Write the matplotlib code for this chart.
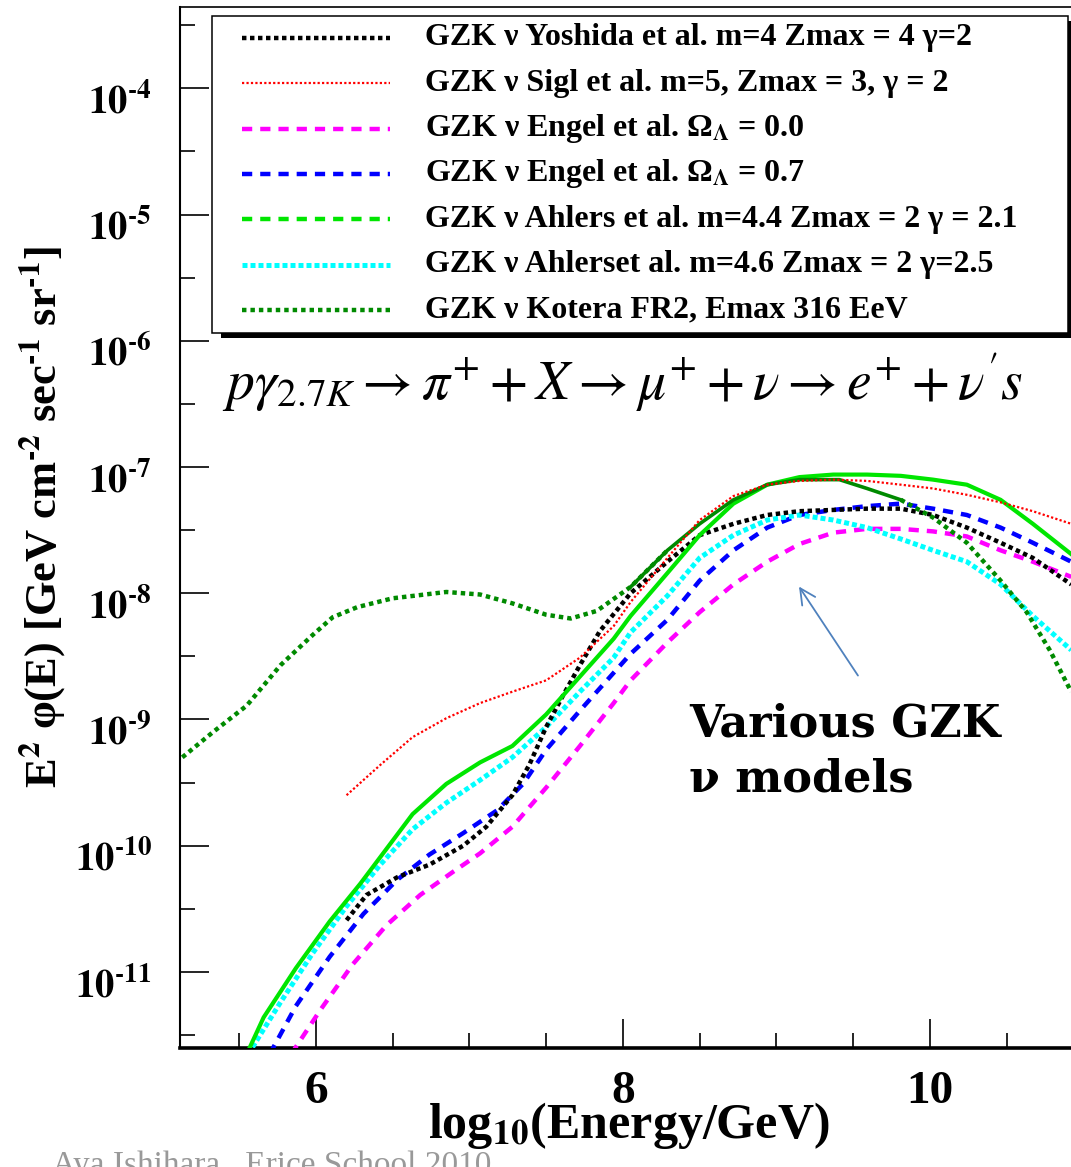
import numpy as np
import matplotlib
matplotlib.use('Agg')
import matplotlib.pyplot as plt
from matplotlib.ticker import FixedLocator, FuncFormatter, NullFormatter
from matplotlib.patches import Rectangle
from matplotlib.lines import Line2D
from matplotlib import transforms

plt.rcParams['mathtext.fontset'] = 'stix'
plt.rcParams['font.family'] = ['Liberation Serif', 'DejaVu Serif']

# log10(E/GeV) and log10(E^2 phi)
yoshida_x = [6.20, 6.33, 6.53, 6.74, 6.96, 7.11, 7.28, 7.39, 7.50, 7.61, 7.72, 7.85, 8.05,
             8.29, 8.50, 8.72, 8.94, 9.15, 9.37, 9.59, 9.81, 10.02, 10.24, 10.46, 10.67, 10.92]
yoshida_y = [-10.59, -10.39, -10.25, -10.15, -10.00, -9.85, -9.60, -9.36, -9.06, -8.81, -8.57, -8.30, -8.00,
             -7.75, -7.54, -7.45, -7.38, -7.35, -7.34, -7.33, -7.33, -7.38, -7.48, -7.60, -7.72, -7.93]

sigl_x = [6.20, 6.42, 6.63, 6.85, 7.07, 7.28, 7.50, 7.72, 7.94, 8.05, 8.29, 8.50,
          8.72, 8.94, 9.15, 9.37, 9.59, 9.81, 10.02, 10.24, 10.46, 10.67, 10.92]
sigl_y = [-9.60, -9.36, -9.14, -8.99, -8.87, -8.78, -8.69, -8.51, -8.26, -8.07, -7.72, -7.42,
          -7.23, -7.14, -7.11, -7.10, -7.11, -7.14, -7.17, -7.22, -7.28, -7.35, -7.45]

engel0_x = [5.84, 6.03, 6.24, 6.46, 6.68, 6.89, 7.07, 7.28, 7.50, 7.72, 7.94, 8.05, 8.29,
            8.50, 8.72, 8.94, 9.15, 9.37, 9.59, 9.81, 10.02, 10.24, 10.46, 10.67, 10.92]
engel0_y = [-11.65, -11.30, -10.94, -10.63, -10.39, -10.21, -10.06, -9.85, -9.54, -9.21, -8.87, -8.69, -8.39,
            -8.15, -7.93, -7.75, -7.61, -7.52, -7.49, -7.49, -7.51, -7.55, -7.66, -7.75, -7.87]

engel7_x = [5.70, 5.87, 6.09, 6.31, 6.53, 6.74, 6.96, 7.18, 7.35, 7.50, 7.72, 7.94, 8.05,
            8.29, 8.50, 8.72, 8.94, 9.15, 9.37, 9.59, 9.81, 10.02, 10.24, 10.46, 10.67, 10.92]
engel7_y = [-11.65, -11.27, -10.88, -10.54, -10.27, -10.07, -9.90, -9.72, -9.51, -9.24, -8.93, -8.63, -8.48,
            -8.21, -7.90, -7.66, -7.48, -7.38, -7.34, -7.31, -7.29, -7.33, -7.38, -7.48, -7.60, -7.75]

ahlers44_x = [5.55, 5.66, 5.87, 6.09, 6.29, 6.42, 6.63, 6.85, 7.07, 7.28, 7.50, 7.72, 7.94, 8.05,
              8.29, 8.50, 8.72, 8.94, 9.15, 9.37, 9.59, 9.81, 10.02, 10.24, 10.46, 10.67, 10.92]
ahlers44_y = [-11.65, -11.36, -10.97, -10.60, -10.30, -10.09, -9.75, -9.51, -9.34, -9.21, -8.96, -8.66, -8.36, -8.18,
              -7.84, -7.54, -7.29, -7.14, -7.08, -7.06, -7.06, -7.07, -7.10, -7.14, -7.26, -7.45, -7.69]

ahlers46_x = [5.56, 5.77, 5.98, 6.20, 6.42, 6.63, 6.85, 7.07, 7.28, 7.50, 7.72, 7.94, 8.05,
              8.29, 8.50, 8.72, 8.94, 9.15, 9.37, 9.59, 9.81, 10.02, 10.24, 10.46, 10.67, 10.92]
ahlers46_y = [-11.65, -11.24, -10.85, -10.48, -10.15, -9.87, -9.66, -9.48, -9.30, -9.06, -8.78, -8.51, -8.31,
              -8.02, -7.72, -7.54, -7.42, -7.38, -7.42, -7.48, -7.57, -7.66, -7.75, -7.93, -8.18, -8.45]

kotera_x = [5.13, 5.33, 5.55, 5.77, 5.98, 6.11, 6.27, 6.50, 6.85, 7.07, 7.28, 7.50, 7.66, 7.83, 8.05,
            8.29, 8.50, 8.72, 8.94, 9.15, 9.41, 9.59, 9.81, 10.02, 10.24, 10.46, 10.63, 10.78, 10.92]
kotera_y = [-9.30, -9.10, -8.89, -8.57, -8.33, -8.19, -8.11, -8.04, -7.99, -8.01, -8.08, -8.17, -8.20, -8.14, -7.95,
            -7.66, -7.45, -7.26, -7.14, -7.10, -7.10, -7.17, -7.26, -7.40, -7.60, -7.90, -8.15, -8.45, -8.78]

labels = [
    'GZK ν Yoshida et al. m=4 Zmax = 4 γ=2',
    'GZK ν Sigl et al. m=5, Zmax = 3, γ = 2',
    r'GZK ν Engel et al. Ω$_{\mathbf{\Lambda}}$ = 0.0',
    r'GZK ν Engel et al. Ω$_{\mathbf{\Lambda}}$ = 0.7',
    'GZK ν Ahlers et al. m=4.4 Zmax = 2 γ = 2.1',
    'GZK ν Ahlerset al. m=4.6 Zmax = 2 γ=2.5',
    'GZK ν Kotera FR2, Emax 316 EeV',
]

dot = (0, (1, 0.8))
dash = (0, (2.3, 1.8))
styles = [
    dict(color='black', lw=3.2, ls=dot),
    dict(color='#ff0000', lw=1.6, ls=(0, (1, 1))),
    dict(color='#ff00ff', lw=3.2, ls=dash),
    dict(color='#0000ff', lw=3.2, ls=dash),
    dict(color='#00e600', lw=3.2, ls=dash),
    dict(color='#00ffff', lw=3.6, ls=(0, (1, 0.6))),
    dict(color='#008a00', lw=3.2, ls=(0, (1, 0.9))),
]

HY = '\u2010'  # short hyphen for exponents, as in the ROOT output

fig = plt.figure(figsize=(10.71, 11.67), dpi=100)
ax = fig.add_axes([179.5 / 1071, 1 - 1047.7 / 1167, 904 / 1071, 1040.7 / 1167])
ax.set_yscale('log')

ax.plot(yoshida_x, 10.0 ** np.array(yoshida_y), **styles[0], zorder=4)
ax.plot(sigl_x, 10.0 ** np.array(sigl_y), **styles[1], zorder=5)
ax.plot(engel0_x, 10.0 ** np.array(engel0_y), **styles[2], zorder=3)
ax.plot(engel7_x, 10.0 ** np.array(engel7_y), **styles[3], zorder=3)
ax.plot(ahlers44_x, 10.0 ** np.array(ahlers44_y), color=styles[4]['color'], lw=3.0, ls='-', zorder=4)
ax.plot(ahlers46_x, 10.0 ** np.array(ahlers46_y), **styles[5], zorder=3)
kx = np.array(kotera_x)
ky = 10.0 ** np.array(kotera_y)
inner = (kx >= 8.05) & (kx <= 9.81)
ax.plot(np.where(kx <= 8.29, kx, np.nan), ky, **styles[6], zorder=4)
ax.plot(np.where(kx >= 9.81, kx, np.nan), ky, **styles[6], zorder=4)
ax.plot(kx[inner], ky[inner], color=styles[6]['color'], lw=2.6, ls='-', zorder=4)

ax.set_xlim(5.112, 11.0)
ax.set_ylim(10 ** -11.6, 10 ** -3.356)

ax.xaxis.set_major_locator(FixedLocator([6, 8, 10]))
ax.xaxis.set_minor_locator(FixedLocator(np.arange(5.5, 11.01, 0.5)))
ax.xaxis.set_major_formatter(FuncFormatter(lambda v, p: '%d' % v))
ax.yaxis.set_major_locator(FixedLocator(10.0 ** np.arange(-11, -3)))
ax.yaxis.set_minor_locator(FixedLocator(10.0 ** (np.arange(-12, -3) + 0.5)))
ax.yaxis.set_minor_formatter(NullFormatter())
ax.yaxis.set_major_formatter(FuncFormatter(
    lambda v, p: r'$\mathbf{10^{%s%d}}$' % (HY, abs(round(np.log10(v))))))

ax.tick_params(which='both', direction='in', width=1.2, top=False, right=False)
ax.tick_params(which='major', length=21)
ax.tick_params(which='minor', length=11)
ax.tick_params(axis='y', which='major', pad=20, labelsize=28)
ax.tick_params(axis='x', which='major', pad=17, labelsize=34)

for t in ax.xaxis.get_major_ticks():
    t.label1.set_fontweight('bold')

# shift y labels so the "10" sits just under its tick, like the original
shift = transforms.ScaledTranslation(0, -0.25, fig.dpi_scale_trans)
for t in ax.yaxis.get_major_ticks():
    t.label1.set_transform(t.label1.get_transform() + shift)
    t.label1.set_verticalalignment('baseline')

ax.spines['left'].set_linewidth(1.5)
ax.spines['bottom'].set_linewidth(2.6)
ax.spines['top'].set_linewidth(1.2)
ax.spines['right'].set_visible(False)

ax.set_ylabel(r'E$^{\mathbf{2}}$ φ(E) [GeV cm$^{\mathbf{%s2}}$ sec$^{\mathbf{%s1}}$ sr$^{\mathbf{%s1}}$]'
              % (HY, HY, HY), fontsize=32, fontweight='bold')
ax.yaxis.set_label_coords(-0.123, 0.51)
ax.set_xlabel(r'log$_{\mathbf{10}}$(Energy/GeV)', fontsize=36, fontweight='bold')
ax.xaxis.set_label_coords(0.497, -0.050)

# reaction chain
ax.text(5.388, 10 ** -6.471,
        r'$p\gamma_{2.7K} \rightarrow \pi^{+} + X \rightarrow \mu^{+} + \nu \rightarrow e^{+} + \nu^{\prime} s$',
        fontsize=40, va='baseline', ha='left')

ax.text(8.43, 10 ** -9.571, 'Various GZK\nν models', family='DejaVu Serif', fontsize=32,
        fontweight='bold', va='baseline', ha='left', linespacing=1.35)
ax.annotate('', xy=(9.147, 10 ** -7.947), xytext=(9.531, 10 ** -8.652),
            arrowprops=dict(arrowstyle='->', color='#4f81bd', lw=1.3, mutation_scale=28,
                            shrinkA=0, shrinkB=0))

# ROOT-style legend box with shadow, in figure pixels
W, H = 1071.0, 1167.0
def fx(px):
    return px / W
def fy(py):
    return 1 - py / H

box_l, box_t, box_r, box_b = 212, 16, 1068, 333
fig.add_artist(Rectangle((fx(box_l + 9), fy(box_b + 5)), fx(box_r - box_l), fy(box_t) - fy(box_b),
                         transform=fig.transFigure, facecolor='black', edgecolor='none', zorder=5))
fig.add_artist(Rectangle((fx(box_l), fy(box_b)), fx(box_r - box_l), fy(box_t) - fy(box_b),
                         transform=fig.transFigure, facecolor='white', edgecolor='black', lw=1.1, zorder=6))
for i, (lab, st) in enumerate(zip(labels, styles)):
    yy = fy(37.7 + i * 45.4)
    fig.add_artist(Line2D([fx(242), fx(390)], [yy, yy], transform=fig.transFigure,
                          color=st['color'], lw=st['lw'], ls=st['ls'], zorder=7))
    fig.text(fx(425), yy, lab, fontsize=23, fontweight='bold', va='center', ha='left', zorder=7)

fig.text(fx(52), -0.006, 'Aya Ishihara , Erice School 2010', fontsize=24,
         color='#999999', va='baseline', ha='left')

fig.savefig('out.png', dpi=100)
